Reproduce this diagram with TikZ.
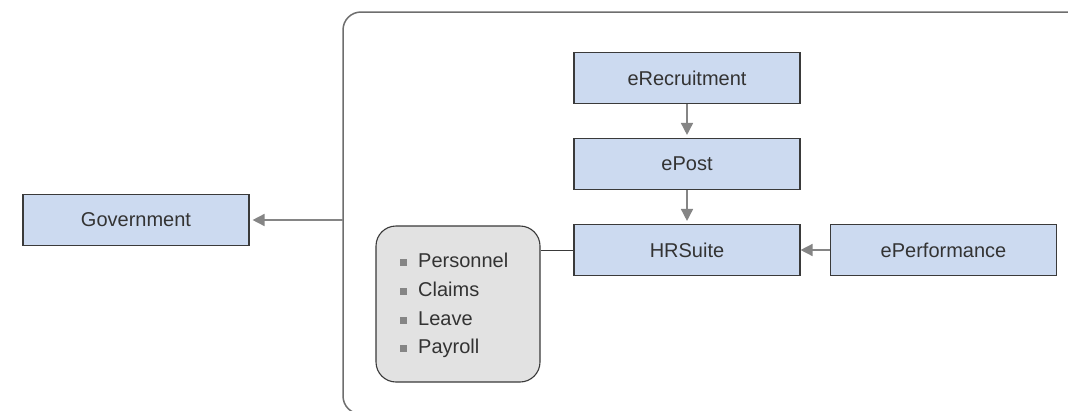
\documentclass[tikz,border=0pt]{standalone}
\usepackage{fontspec}
\setmainfont{Liberation Sans}
\usetikzlibrary{arrows.meta}
\definecolor{boxblue}{HTML}{CCDAF0}
\definecolor{boxline}{HTML}{3A3A3A}
\definecolor{txt}{HTML}{333333}
\definecolor{arr}{HTML}{858585}
\definecolor{grayfill}{HTML}{E2E2E2}
\definecolor{cont}{HTML}{6E6E6E}
\tikzset{
  bluebox/.style={draw=boxline, line width=1.1pt, fill=boxblue, minimum width=226pt, minimum height=51pt, inner sep=0pt, text=txt, font=\fontsize{20}{24}\selectfont},
  listbox/.style={draw=boxline, line width=1.1pt, fill=grayfill, rounded corners=20pt, minimum width=164pt, minimum height=156pt, inner sep=0pt},
  item/.style={anchor=west, inner sep=0pt, text height=14.5pt, text depth=4.5pt, text=txt, font=\fontsize{20}{24}\selectfont},
  bullet/.style={fill=arr, minimum size=7pt, inner sep=0pt},
  arrowline/.style={draw=arr, line width=1.5pt, -{Triangle[length=12pt,width=12pt]}, shorten >=3pt},
  plainline/.style={draw=boxline, line width=1pt},
  container/.style={draw=cont, line width=1.5pt, rounded corners=18pt}
}
\begin{document}
\begin{tikzpicture}[x=1pt,y=-1pt]
\clip (0,0) rectangle (1068,410);
\fill[white] (0,0) rectangle (1068,410);
\draw[container] (343,12) rectangle (1120,414);
\coordinate (cl) at (343,220);

\node[bluebox] (gov) at (136,220) {Government};
\node[bluebox] (erec) at (687,78) {eRecruitment};
\node[bluebox] (epost) at (687,164) {ePost};
\node[bluebox] (hr) at (687,250) {HRSuite};
\node[bluebox] (eperf) at (943.5,250) {ePerformance};

\node[listbox] (list) at (458,304) {};
\node[bullet] (b1) at (403,262) {};
\node[bullet] (b2) at (403,291) {};
\node[bullet] (b3) at (403,320) {};
\node[bullet] (b4) at (403,348) {};
\node[item] (i1) at (418,262) {Personnel};
\node[item] (i2) at (418,291) {Claims};
\node[item] (i3) at (418,320) {Leave};
\node[item] (i4) at (418,348) {Payroll};

\draw[arrowline] (cl) -- (gov.east);
\draw[arrowline] (erec.south) -- (epost.north);
\draw[arrowline] (epost.south) -- (hr.north);
\draw[arrowline, shorten >=0pt] (eperf.west) -- (hr.east);
\draw[plainline] (hr.west) -- (hr.west -| list.east);
\end{tikzpicture}
\end{document}
